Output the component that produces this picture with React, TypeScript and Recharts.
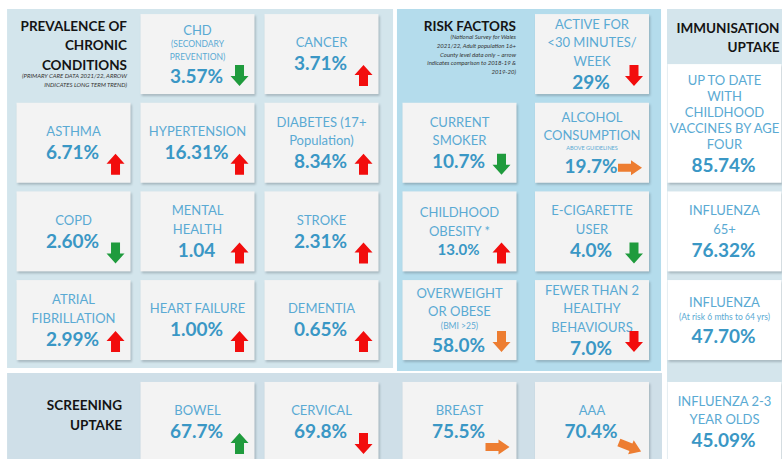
import React from 'react';
import { ScatterChart, Scatter, XAxis, YAxis, ReferenceArea } from 'recharts';

document.body.style.margin = '0';

// ---- data ----
// grid cells are [col, row] (immunisation: [col, row, rowSpan])

const prevalenceTitle = ['PREVALENCE OF', 'CHRONIC', 'CONDITIONS'];
const prevalenceNote = ['(PRIMARY CARE DATA 2021/22, ARROW', 'INDICATES LONG TERM TREND)'];
const prevalenceCells = [[1, 0], [2, 0], [0, 1], [1, 1], [2, 1], [0, 2], [1, 2], [2, 2], [0, 3], [1, 3], [2, 3]];
const prevalenceLabels = [
  'CHD', 'CANCER', 'ASTHMA', 'HYPERTENSION', 'DIABETES (17+\nPopulation)', 'COPD',
  'MENTAL\nHEALTH', 'STROKE', 'ATRIAL\nFIBRILLATION', 'HEART FAILURE', 'DEMENTIA',
];
const prevalenceNotes = ['(SECONDARY\nPREVENTION)', '', '', '', '', '', '', '', '', '', ''];
const prevalenceValues = ['3.57%', '3.71%', '6.71%', '16.31%', '8.34%', '2.60%', '1.04', '2.31%', '2.99%', '1.00%', '0.65%'];
const prevalenceTrends = ['down', 'up', 'up', 'up', 'up', 'down', 'up', 'up', 'up', 'up', 'up'];
const prevalenceTones = ['green', 'red', 'red', 'red', 'red', 'green', 'red', 'red', 'red', 'red', 'red'];

const riskTitle = ['RISK FACTORS'];
const riskNote = [
  '(National Survey for Wales', '2021/22, Adult population 16+', 'County level data only – arrow',
  'indicates comparison to 2018-19 &', '2019-20)',
];
const riskCells = [[1, 0], [0, 1], [1, 1], [0, 2], [1, 2], [0, 3], [1, 3]];
const riskLabels = [
  'ACTIVE FOR\n<30 MINUTES/\nWEEK', 'CURRENT\nSMOKER', 'ALCOHOL\nCONSUMPTION', 'CHILDHOOD\nOBESITY *',
  'E-CIGARETTE\nUSER', 'OVERWEIGHT\nOR OBESE', 'FEWER THAN 2\nHEALTHY\nBEHAVIOURS',
];
const riskNotes = ['', '', 'ABOVE GUIDELINES', '', '', '(BMI >25)', ''];
const riskValues = ['29%', '10.7%', '19.7%', '13.0%', '4.0%', '58.0%', '7.0%'];
const riskTrends = ['down', 'down', 'right', 'up', 'down', 'down', 'down'];
const riskTones = ['red', 'green', 'orange', 'red', 'green', 'orange', 'red'];

const immunisationTitle = ['IMMUNISATION', 'UPTAKE'];
const immunisationCells = [[2, 1, 2], [2, 2], [2, 3], [2, 4]];
const immunisationLabels = [
  'UP TO DATE\nWITH\nCHILDHOOD\nVACCINES BY AGE\nFOUR', 'INFLUENZA\n65+', 'INFLUENZA', 'INFLUENZA 2-3\nYEAR OLDS',
];
const immunisationNotes = ['', '', '(At risk 6 mths to 64 yrs)', ''];
const immunisationValues = ['85.74%', '76.32%', '47.70%', '45.09%'];

const screeningTitle = ['SCREENING', 'UPTAKE'];
const screeningCells = [[1, 4], [2, 4], [0, 4], [1, 4]];
const screeningSides = ['left', 'left', 'right', 'right'];
const screeningLabels = ['BOWEL', 'CERVICAL', 'BREAST', 'AAA'];
const screeningValues = ['67.7%', '69.8%', '75.5%', '70.4%'];
const screeningTrends = ['up', 'down', 'right', 'rightDown'];
const screeningTones = ['green', 'red', 'orange', 'orange'];

// ---- layout / style ----
const W = 782;
const H = 459;
const LEFT_X: [number, number] = [-0.593, 5.714];
const RIGHT_X: [number, number] = [-3.468, 2.434];
const UPPER_Y: [number, number] = [-0.61, 4.567];
const LOWER_Y: [number, number] = [-0.76, 4.418];
const ROW_PX = 88.65;
const TILE_W = 114;
const TILE_H = 80;
const HEADER_PX = 50;

const FONT = 'Lato, "Open Sans", sans-serif';
const LABEL_C = '#5aaad3';
const VALUE_C = '#3a97c5';
const TONES: Record<string, string> = { red: '#f20d0d', green: '#1f9b3d', orange: '#ed7d31' };
const SMALL_VALUES = ['13.0%'];

type Tile = {
  col: number;
  row: number;
  span?: number;
  label: string;
  note?: string;
  value: string;
  trend?: string;
  tone?: string;
  white?: boolean;
};

const makeTiles = (
  cells: number[][], labels: string[], notes: string[], values: string[],
  trends: string[], tones: string[], white = false,
): Tile[] =>
  cells.map((c, i) => ({
    col: c[0], row: c[1], span: c[2] ?? 1,
    label: labels[i], note: notes[i], value: values[i], trend: trends[i], tone: tones[i], white,
  }));

const prevalenceTiles = makeTiles(prevalenceCells, prevalenceLabels, prevalenceNotes, prevalenceValues, prevalenceTrends, prevalenceTones);
const riskTiles = makeTiles(riskCells, riskLabels, riskNotes, riskValues, riskTrends, riskTones);
const immunisationTiles = makeTiles(immunisationCells, immunisationLabels, immunisationNotes, immunisationValues, [], [], true);
const screeningTiles = makeTiles(screeningCells, screeningLabels, [], screeningValues, screeningTrends, screeningTones);

const Arrow = ({ x, y, dir, color }: { x: number; y: number; dir: string; color: string }) => {
  let pts: number[][];
  if (dir === 'up') {
    pts = [[0, 10], [9, 0], [18, 10], [13.5, 10], [13.5, 21], [4.5, 21], [4.5, 10]];
  } else if (dir === 'down') {
    pts = [[4.5, 0], [13.5, 0], [13.5, 11], [18, 11], [9, 21], [0, 11], [4.5, 11]];
  } else {
    pts = [[0, 3.5], [13, 3.5], [13, 0], [24, 7.5], [13, 15], [13, 11.5], [0, 11.5]];
  }
  const rot = dir === 'rightDown' ? `rotate(22 ${x + 12} ${y + 7.5})` : undefined;
  return (
    <polygon
      points={pts.map(([px, py]) => `${x + px},${y + py}`).join(' ')}
      fill={color}
      transform={rot}
    />
  );
};

const KIND = {
  label: { size: 13, step: 18.5, cap: 9.5, weight: 400 },
  note: { size: 8.5, step: 12.5, cap: 6.2, weight: 400 },
  tiny: { size: 5.5, step: 10, cap: 4, weight: 400 },
};

const TileShape = (props: any) => {
  const { cx, cy, payload } = props;
  if (cx == null || cy == null) return null;
  const t: Tile = payload;
  const span = t.span ?? 1;
  const x = cx - TILE_W / 2;
  const top = cy - TILE_H / 2 - (span - 1) * (ROW_PX - HEADER_PX);
  const bottom = cy + TILE_H / 2;

  const lines: { text: string; kind: keyof typeof KIND }[] = [];
  t.label.split('\n').forEach((s) => lines.push({ text: s, kind: 'label' }));
  if (t.note) {
    const kind = t.note.startsWith('(') ? 'note' : 'tiny';
    t.note.split('\n').forEach((s) => lines.push({ text: s, kind }));
  }
  const labelStep = span > 1 ? 16 : KIND.label.step;
  const baselines: number[] = [];
  let b = 0;
  lines.forEach((l, i) => {
    if (i > 0) b += l.kind === 'label' ? labelStep : KIND[l.kind].step;
    baselines.push(b);
  });
  const valueSize = SMALL_VALUES.includes(t.value) ? 15 : 19;
  const valueBase = b + valueSize + 4;
  const blockTop = -KIND[lines[0].kind].cap;
  const shift = (top + bottom) / 2 - (blockTop + valueBase) / 2;

  let arrow = null;
  if (t.trend) {
    const color = TONES[t.tone || 'red'];
    if (t.trend === 'up' || t.trend === 'down') {
      arrow = <Arrow x={cx + 33} y={bottom - 29} dir={t.trend} color={color} />;
    } else {
      arrow = <Arrow x={cx + 26} y={cy + 17.5} dir={t.trend} color={color} />;
    }
  }

  return (
    <g>
      <defs>
        <filter id="tileShadow" x="-10%" y="-10%" width="130%" height="130%">
          <feGaussianBlur stdDeviation="1.2" />
        </filter>
      </defs>
      <rect x={x + 1.2} y={top + 1.8} width={TILE_W} height={bottom - top} fill="#4a5a63" opacity={0.35} filter="url(#tileShadow)" />
      <rect x={x} y={top} width={TILE_W} height={bottom - top} fill={t.white ? '#ffffff' : '#f3f3f3'} />
      {lines.map((l, i) => (
        <text
          key={i}
          x={cx}
          y={baselines[i] + shift}
          textAnchor="middle"
          fontFamily={FONT}
          fontSize={KIND[l.kind].size}
          fontWeight={KIND[l.kind].weight}
          fill={LABEL_C}
        >
          {l.text}
        </text>
      ))}
      <text
        x={cx - 1}
        y={valueBase + shift}
        textAnchor="middle"
        fontFamily={FONT}
        fontSize={valueSize}
        fontWeight={700}
        fill={VALUE_C}
      >
        {t.value}
      </text>
      {arrow}
    </g>
  );
};

// title blocks sit in grid cells too
const TITLE_LAYOUT: Record<string, { dx: number; dy: number }> = {
  prevalence: { dx: 53.5, dy: 0 },
  risk: { dx: 56.5, dy: -6.5 },
  immunisation: { dx: 55, dy: -16.5 },
  screening: { dx: 48.5, dy: -7 },
};

const TitleShape = (props: any) => {
  const { cx, cy, payload } = props;
  if (cx == null || cy == null) return null;
  const heads: string[] = payload.heads;
  const notes: string[] = payload.notes || [];
  const lay = TITLE_LAYOUT[payload.id];
  const items: { text: string; head: boolean; b: number }[] = [];
  let b = 0;
  heads.forEach((h, i) => {
    if (i > 0) b += 19.5;
    items.push({ text: h, head: true, b });
  });
  notes.forEach((n, i) => {
    b += i === 0 ? 8.5 : 8.7;
    items.push({ text: n, head: false, b });
  });
  const shift = cy + lay.dy - (-9.7 + b) / 2;
  const x = cx + lay.dx;
  return (
    <g>
      {items.map((it, i) => (
        <text
          key={i}
          x={x}
          y={it.b + shift}
          textAnchor="end"
          fontFamily={FONT}
          fontSize={it.head ? 13.5 : 6}
          fontWeight={it.head ? 700 : 400}
          fontStyle={it.head ? 'normal' : 'italic'}
          fill={it.head ? '#141414' : '#333333'}
        >
          {it.text}
        </text>
      ))}
    </g>
  );
};

const PANELS = [
  { key: 'prev', xa: 'left', ya: 'upper', x1: -0.536, x2: 2.577, y1: -0.509, y2: 3.541, fill: '#d3e5ec' },
  { key: 'risk', xa: 'right', ya: 'upper', x1: -0.472, x2: 1.521, y1: -0.509, y2: 3.575, fill: '#b4dcec' },
  { key: 'imm', xa: 'right', ya: 'upper', x1: 1.566, x2: 2.434, y1: -0.509, y2: 4.567, fill: '#d4e5ec' },
  { key: 'scr', xa: 'left', ya: 'lower', x1: -0.536, x2: 4.746, y1: 3.447, y2: 4.418, fill: '#cfdfe8' },
];

export default function App() {
  return (
    <div style={{ width: W, height: H, background: '#ffffff' }}>
      <ScatterChart width={W} height={H} margin={{ top: 0, right: 0, bottom: 0, left: 0 }}>
        <XAxis xAxisId="left" type="number" dataKey="col" domain={LEFT_X} allowDataOverflow hide />
        <XAxis xAxisId="right" type="number" dataKey="col" domain={RIGHT_X} allowDataOverflow hide />
        <YAxis yAxisId="upper" type="number" dataKey="row" domain={UPPER_Y} allowDataOverflow reversed hide />
        <YAxis yAxisId="lower" type="number" dataKey="row" domain={LOWER_Y} allowDataOverflow reversed hide />
        {PANELS.map((p) => (
          <ReferenceArea
            key={p.key}
            xAxisId={p.xa}
            yAxisId={p.ya}
            x1={p.x1}
            x2={p.x2}
            y1={p.y1}
            y2={p.y2}
            fill={p.fill}
            fillOpacity={1}
            stroke="none"
            ifOverflow="visible"
          />
        ))}
        <Scatter
          data={[{ col: 0, row: 0, id: 'prevalence', heads: prevalenceTitle, notes: prevalenceNote }]}
          xAxisId="left" yAxisId="upper" shape={TitleShape} isAnimationActive={false}
        />
        <Scatter
          data={[{ col: 0, row: 0, id: 'risk', heads: riskTitle, notes: riskNote }]}
          xAxisId="right" yAxisId="upper" shape={TitleShape} isAnimationActive={false}
        />
        <Scatter
          data={[{ col: 2, row: 0, id: 'immunisation', heads: immunisationTitle }]}
          xAxisId="right" yAxisId="upper" shape={TitleShape} isAnimationActive={false}
        />
        <Scatter
          data={[{ col: 0, row: 4, id: 'screening', heads: screeningTitle }]}
          xAxisId="left" yAxisId="lower" shape={TitleShape} isAnimationActive={false}
        />
        <Scatter data={prevalenceTiles} xAxisId="left" yAxisId="upper" shape={TileShape} isAnimationActive={false} />
        <Scatter data={riskTiles} xAxisId="right" yAxisId="upper" shape={TileShape} isAnimationActive={false} />
        <Scatter
          data={immunisationTiles.filter((t) => t.row < 4)}
          xAxisId="right" yAxisId="upper" shape={TileShape} isAnimationActive={false}
        />
        <Scatter
          data={immunisationTiles.filter((t) => t.row === 4)}
          xAxisId="right" yAxisId="lower" shape={TileShape} isAnimationActive={false}
        />
        <Scatter
          data={screeningTiles.filter((_, i) => screeningSides[i] === 'left')}
          xAxisId="left" yAxisId="lower" shape={TileShape} isAnimationActive={false}
        />
        <Scatter
          data={screeningTiles.filter((_, i) => screeningSides[i] === 'right')}
          xAxisId="right" yAxisId="lower" shape={TileShape} isAnimationActive={false}
        />
      </ScatterChart>
    </div>
  );
}
